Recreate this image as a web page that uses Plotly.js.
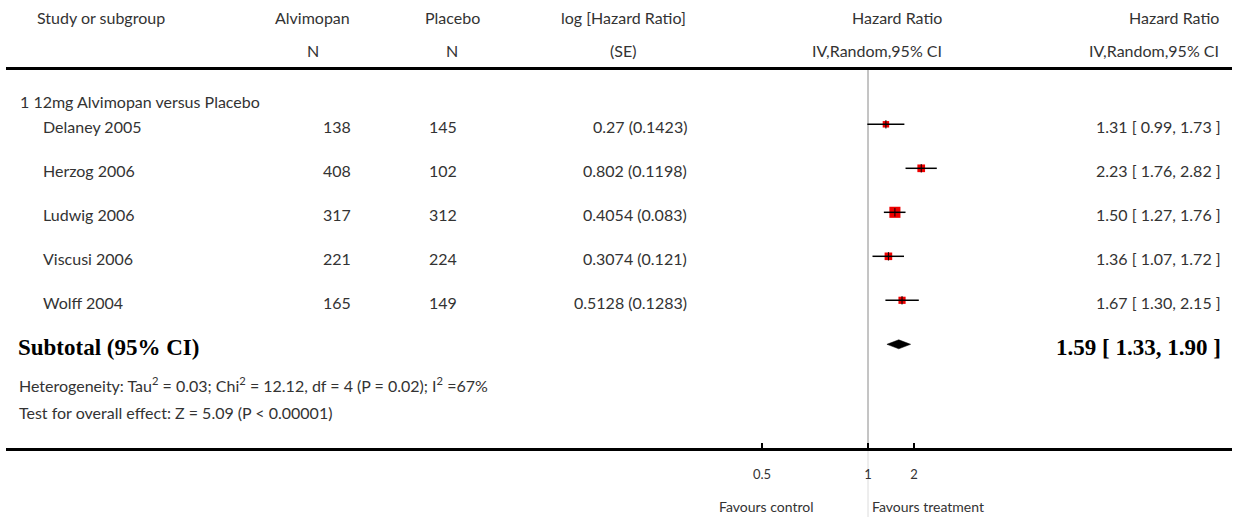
<!DOCTYPE html>
<html>
<head>
<meta charset="utf-8">
<script src="https://cdn.plot.ly/plotly-3.0.1.min.js"></script>
<style>
  html, body { margin: 0; padding: 0; background: #ffffff; }
  #chart { width: 1234px; height: 517px; }
</style>
</head>
<body>
<div id="chart"></div>
<script>
// ---------------- data ----------------
const subgroupTitle = '1 12mg Alvimopan versus Placebo';
const studies = ['Delaney 2005', 'Herzog 2006', 'Ludwig 2006', 'Viscusi 2006', 'Wolff 2004'];
const nAlvimopan = [138, 408, 317, 221, 165];
const nPlacebo = [145, 102, 312, 224, 149];
const logHR = ['0.27', '0.802', '0.4054', '0.3074', '0.5128'];
const seLogHR = ['0.1423', '0.1198', '0.083', '0.121', '0.1283'];
const hazardRatio = [1.31, 2.23, 1.50, 1.36, 1.67];
const ciLower = [0.99, 1.76, 1.27, 1.07, 1.30];
const ciUpper = [1.73, 2.82, 1.76, 1.72, 2.15];
const subtotal = [1.59, 1.33, 1.90];            // HR, lower, upper
const heterogeneityText = 'Heterogeneity: Tau<sup>2</sup> = 0.03; Chi<sup>2</sup> = 12.12, df = 4 (P = 0.02); I<sup>2</sup> =67%';
const overallEffectText = 'Test for overall effect: Z = 5.09 (P < 0.00001)';
const axisTickLabels = ['0.5', '1', '2'];
// the reference draws its "0.5" label at this spot on the log scale
const axisTickValues = [0.2024, 1, 2];
const favoursLeft = 'Favours control';
const favoursRight = 'Favours treatment';

// ---------------- layout helpers ----------------
const W = 1234, H = 517;
const ML = 6, MR = 2, MT = 0, MB = 69;
const plotW = W - ML - MR, plotH = H - MT - MB;     // 1226 x 448
const rowTop = 124.3, rowStep = 44;                  // pixel of first study row, spacing
const pxToRow = py => (py - rowTop) / rowStep;
const px2paperX = px => (px - ML) / plotW;
const px2paperY = py => (plotH + MT - py) / plotH;

const TXT = '#333333';
const FONT = 'Lato, "Open Sans", sans-serif';
const FS = 16;

const annotations = [];
function ann(text, px, py, anchor, extra) {
  annotations.push(Object.assign({
    text: text, xref: 'paper', yref: 'paper',
    x: px2paperX(px), y: px2paperY(py),
    xanchor: anchor, yanchor: 'middle', showarrow: false,
    font: { family: FONT, size: FS, color: TXT }
  }, extra || {}));
}

// header
ann('Study or subgroup', 35, 18, 'left');
ann('Alvimopan', 313, 18, 'center');
ann('N', 313, 50, 'center');
ann('Placebo', 452, 18, 'center');
ann('N', 452, 50, 'center');
ann('log [Hazard Ratio]', 623, 18, 'center');
ann('(SE)', 623, 50, 'center');
ann('Hazard Ratio', 944, 18, 'right');
ann('IV,Random,95% CI', 944, 50, 'right');
ann('Hazard Ratio', 1221, 18, 'right');
ann('IV,Random,95% CI', 1221, 50, 'right');

// subgroup + study rows
ann(subgroupTitle, 18, 101, 'left');
studies.forEach((s, i) => {
  const py = rowTop + rowStep * i + 2;
  ann(s, 41, py, 'left');
  ann(String(nAlvimopan[i]), 353, py, 'right');
  ann(String(nPlacebo[i]), 459, py, 'right');
  ann(logHR[i] + ' (' + seLogHR[i] + ')', 689, py, 'right');
  ann(hazardRatio[i].toFixed(2) + ' [ ' + ciLower[i].toFixed(2) + ', ' + ciUpper[i].toFixed(2) + ' ]', 1223, py, 'right');
});

// subtotal block
const boldSerif = { family: '"Liberation Serif", "DejaVu Serif", serif', size: 23, color: '#000000' };
ann('<b>Subtotal (95% CI)</b>', 16, 347, 'left', { font: boldSerif });
ann('<b>' + subtotal[0].toFixed(2) + ' [ ' + subtotal[1].toFixed(2) + ', ' + subtotal[2].toFixed(2) + ' ]</b>', 1223, 347, 'right', { font: boldSerif });
ann(heterogeneityText, 17, 384, 'left', { font: { family: FONT, size: 16, color: TXT } });
ann(overallEffectText, 17, 412, 'left', { font: { family: FONT, size: 16, color: TXT } });

// favours labels
ann(favoursLeft, 766, 506, 'center', { font: { family: FONT, size: 14, color: TXT } });
ann(favoursRight, 928, 506, 'center', { font: { family: FONT, size: 14, color: TXT } });

// ---------------- traces ----------------
const rows = studies.map((_, i) => i);
const markerSizes = seLogHR.map(se => 0.92 / parseFloat(se));

const squares = {
  type: 'scatter', mode: 'markers',
  x: hazardRatio, y: rows,
  marker: { symbol: 'square', size: markerSizes, color: '#ee0000', opacity: 1, line: { width: 0 } },
  hoverinfo: 'skip'
};
const ciLines = {
  type: 'scatter', mode: 'markers',
  x: hazardRatio, y: rows,
  marker: { symbol: 'line-ns-open', size: 6, color: '#000000', line: { width: 1, color: '#000000' } },
  error_x: {
    type: 'data', symmetric: false,
    array: hazardRatio.map((v, i) => ciUpper[i] - v),
    arrayminus: hazardRatio.map((v, i) => v - ciLower[i]),
    color: '#000000', thickness: 1.5, width: 0
  },
  hoverinfo: 'skip'
};
const subRow = pxToRow(344.3);
const dh = 4.5 / rowStep;
const diamond = {
  type: 'scatter', mode: 'lines',
  x: [subtotal[1], subtotal[0], subtotal[2], subtotal[0], subtotal[1]],
  y: [subRow, subRow - dh, subRow, subRow + dh, subRow],
  fill: 'toself', fillcolor: '#000000', line: { width: 0.5, color: '#000000' },
  hoverinfo: 'skip'
};

// ---------------- layout ----------------
const decadePx = 46 / Math.log10(2);       // pixels per decade
const onePx = 868 - ML;                      // pixel (inside plot) of HR = 1
const xRange = [-onePx / decadePx, (plotW - onePx) / decadePx];
const yRange = [pxToRow(plotH), pxToRow(0)];

const layout = {
  width: W, height: H,
  margin: { l: ML, r: MR, t: MT, b: MB, pad: 0 },
  paper_bgcolor: '#ffffff', plot_bgcolor: '#ffffff',
  showlegend: false,
  xaxis: {
    type: 'log', range: xRange, fixedrange: true,
    showgrid: false, zeroline: false,
    showline: true, linewidth: 3, linecolor: '#000000',
    ticks: 'inside', ticklen: 5, tickwidth: 2, tickcolor: '#000000',
    tickmode: 'array', tickvals: axisTickValues, ticktext: axisTickLabels,
    tickfont: { family: FONT, size: 13, color: TXT },
    ticklabelstandoff: 12
  },
  yaxis: {
    range: yRange, fixedrange: true,
    showgrid: false, zeroline: false, showline: false, showticklabels: false, ticks: ''
  },
  shapes: [
    { type: 'line', xref: 'paper', yref: 'paper', x0: 0, x1: 1,
      y0: px2paperY(68.5), y1: px2paperY(68.5), line: { color: '#000000', width: 3 } },
    { type: 'line', xref: 'x', yref: 'paper', x0: 1, x1: 1,
      y0: px2paperY(70), y1: 0, line: { color: '#8a8a8a', width: 1 }, layer: 'below' },
    { type: 'line', xref: 'x', yref: 'paper', x0: 1, x1: 1,
      y0: 0, y1: px2paperY(517), line: { color: '#dcdcdc', width: 1 }, layer: 'below' }
  ],
  annotations: annotations
};

Plotly.newPlot('chart', [squares, ciLines, diamond], layout, { displayModeBar: false, staticPlot: true });
</script>
</body>
</html>
